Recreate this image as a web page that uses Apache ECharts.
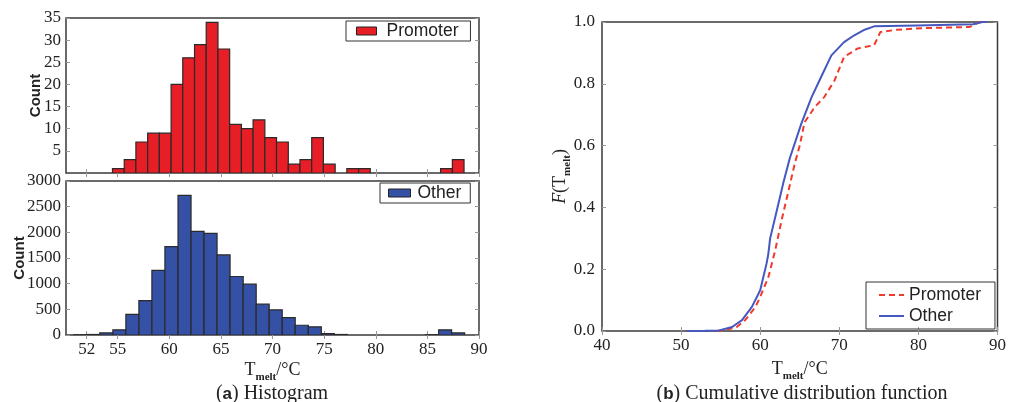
<!DOCTYPE html>
<html>
<head>
<meta charset="utf-8">
<script src="https://cdn.jsdelivr.net/npm/echarts@6/dist/echarts.min.js"></script>
<style>
html,body{margin:0;padding:0;background:#fff;}
#chart{width:1009px;height:402px;}
</style>
</head>
<body>
<div id="chart"></div>
<script>
// ---- Histogram bins (left edges + final right edge) ----
const promoterEdges = [54.50,55.64,56.77,57.91,59.04,60.18,61.31,62.45,63.58,64.72,65.85,66.99,68.12,69.26,70.39,71.53,72.66,73.80,74.93,76.07,77.20,78.34,79.47,80.61,81.74,82.88,84.01,85.15,86.28,87.42,88.55];
const promoterCounts = [1,3,7,9,9,20,26,29,34,28,11,10,12,8,7,2,3,8,2,0,1,1,0,0,0,0,0,0,1,3];
const otherEdges = [50.75,52.01,53.27,54.54,55.80,57.06,58.32,59.58,60.85,62.11,63.37,64.63,65.89,67.16,68.42,69.68,70.94,72.20,73.47,74.73,75.99,77.25,78.51,79.78,81.04,82.30,83.56,84.82,86.09,87.35,88.61];
const otherCounts = [5,10,40,100,400,670,1260,1720,2720,2020,1980,1560,1140,990,600,490,340,190,160,25,10,0,0,0,0,0,0,5,100,40];
const histXTicks = [52,55,60,65,70,75,80,85,90];

// ---- CDF curves ----
const promoterCdfT = [54.5,55.6,57.0,58.1,59.4,60.0,61.04,61.9,62.7,63.5,64.4,65.0,65.6,66.9,68.1,69.4,70.6,72.3,74.4,75.2,77.3,80.6,86.5,87.7,88.5];
const promoterCdfF = [0,0.004,0.012,0.035,0.078,0.11,0.175,0.261,0.358,0.445,0.545,0.60,0.675,0.725,0.757,0.811,0.887,0.914,0.925,0.968,0.975,0.98,0.984,1.0,1.0];
const otherCdfT = [50.7,53.0,54.8,56.45,57.7,58.95,60.0,60.8,61.0,61.1,61.25,62.1,62.9,63.75,65.2,66.5,67.7,69.0,70.6,71.9,73.2,74.4,79.8,86.9,87.6,88.1,88.6];
const otherCdfF = [0,0.0005,0.002,0.013,0.035,0.078,0.132,0.218,0.245,0.265,0.299,0.39,0.477,0.56,0.671,0.757,0.822,0.892,0.935,0.957,0.975,0.986,0.989,0.993,0.997,1.0,1.0];

const RED = '#e81e26', BLUE = '#3451a6';
const SERIF = '"Liberation Serif", "DejaVu Serif", serif';
const SANS = '"Liberation Sans", Arial, sans-serif';
const TXT = '#222';

function histData(edges, counts) {
  return counts.map((c, i) => [edges[i], edges[i + 1], c]);
}
function histRender(color) {
  return function (params, api) {
    const lo = api.value(0), hi = api.value(1), c = api.value(2);
    if (!c) return null;
    const p0 = api.coord([lo, 0]);
    const p1 = api.coord([hi, c]);
    return {
      type: 'rect',
      shape: { x: p0[0], y: p1[1], width: p1[0] - p0[0], height: p0[1] - p1[1] },
      style: { fill: color, stroke: '#2a2a2a', lineWidth: 1.2 }
    };
  };
}

const tickLabel = { fontFamily: SERIF, fontSize: 17, color: TXT };
const tickStyle = { inside: true, length: 4, lineStyle: { color: '#999' } };
const tMeltRich = {
  t: { fontFamily: SERIF, fontSize: 18, color: TXT },
  s: { fontFamily: SERIF, fontSize: 11, fontWeight: 'bold', color: TXT, lineHeight: 26, verticalAlign: 'bottom' }
};
const gridCommon = { show: true, borderColor: '#3a3a3a', borderWidth: 1.5, backgroundColor: 'transparent' };

// secondary (mirror) axes: ticks only, on top / right
function mirrorX(gridIndex, min, max, extra) {
  return Object.assign({ gridIndex, type: 'value', position: 'top', min, max, axisLine: { show: false },
    axisLabel: { show: false }, splitLine: { show: false }, axisTick: Object.assign({}, tickStyle) }, extra || {});
}
function mirrorY(gridIndex, min, max, interval) {
  return { gridIndex, type: 'value', position: 'right', min, max, interval, axisLine: { show: false },
    axisLabel: { show: false }, splitLine: { show: false }, axisTick: Object.assign({}, tickStyle) };
}

const capRich = {
  p: { fontFamily: SERIF, fontSize: 20, fontWeight: 'normal', color: TXT },
  b: { fontFamily: SANS, fontSize: 17, fontWeight: 'bold', color: TXT }
};

const chart = echarts.init(document.getElementById('chart'), null, { renderer: 'canvas' });
chart.setOption({
  animation: false,
  backgroundColor: '#fff',
  grid: [
    Object.assign({ left: 66, top: 18, width: 413, height: 155 }, gridCommon),
    Object.assign({ left: 66, top: 181, width: 413, height: 154 }, gridCommon),
    Object.assign({ left: 602, top: 22, width: 399, height: 309 }, gridCommon)
  ],
  xAxis: [
    { gridIndex: 0, type: 'value', min: 50, max: 90, axisLine: { show: false },
      axisLabel: { show: false }, splitLine: { show: false },
      axisTick: Object.assign({ customValues: histXTicks }, tickStyle) },
    { gridIndex: 1, type: 'value', min: 50, max: 90, axisLine: { show: false }, splitLine: { show: false },
      axisTick: Object.assign({ customValues: histXTicks }, tickStyle),
      axisLabel: Object.assign({ margin: 6, customValues: histXTicks }, tickLabel),
      name: '{t|T}{s|melt}{t|/°C}', nameLocation: 'middle', nameGap: 22, nameMoveOverlap: false,
      nameTextStyle: { rich: tMeltRich } },
    { gridIndex: 2, type: 'value', min: 40, max: 90, interval: 10, axisLine: { show: false }, splitLine: { show: false },
      axisTick: Object.assign({}, tickStyle),
      axisLabel: Object.assign({ margin: 6 }, tickLabel),
      name: '{t|T}{s|melt}{t|/°C}', nameLocation: 'middle', nameGap: 25, nameMoveOverlap: false,
      nameTextStyle: { rich: tMeltRich } },
    mirrorX(0, 50, 90, { axisTick: Object.assign({ customValues: histXTicks }, tickStyle) }),
    mirrorX(1, 50, 90, { axisTick: Object.assign({ customValues: histXTicks }, tickStyle) }),
    mirrorX(2, 40, 90, { interval: 10 })
  ],
  yAxis: [
    { gridIndex: 0, type: 'value', min: 0, max: 35, interval: 5, axisLine: { show: false }, splitLine: { show: false },
      axisTick: Object.assign({}, tickStyle),
      axisLabel: Object.assign({ margin: 5, showMinLabel: false }, tickLabel),
      name: 'Count', nameLocation: 'middle', nameGap: 23, nameMoveOverlap: false,
      nameTextStyle: { fontFamily: SANS, fontWeight: 'bold', fontSize: 15, color: TXT } },
    { gridIndex: 1, type: 'value', min: 0, max: 3000, interval: 500, axisLine: { show: false }, splitLine: { show: false },
      axisTick: Object.assign({}, tickStyle),
      axisLabel: Object.assign({ margin: 5, formatter: v => String(v) }, tickLabel),
      name: 'Count', nameLocation: 'middle', nameGap: 39, nameMoveOverlap: false,
      nameTextStyle: { fontFamily: SANS, fontWeight: 'bold', fontSize: 15, color: TXT } },
    { gridIndex: 2, type: 'value', min: 0, max: 1, interval: 0.2, axisLine: { show: false }, splitLine: { show: false },
      axisTick: Object.assign({}, tickStyle),
      axisLabel: Object.assign({ margin: 7, formatter: v => v.toFixed(1) }, tickLabel),
      name: '{i|F}{t|(T}{s|melt}{t|)}', nameLocation: 'middle', nameGap: 29, nameMoveOverlap: false,
      nameTextStyle: { rich: {
        i: { fontFamily: SERIF, fontStyle: 'italic', fontSize: 18, color: TXT },
        t: { fontFamily: SERIF, fontSize: 18, color: TXT },
        s: { fontFamily: SERIF, fontSize: 11, fontWeight: 'bold', color: TXT, lineHeight: 26, verticalAlign: 'bottom' }
      } } },
    mirrorY(0, 0, 35, 5),
    mirrorY(1, 0, 3000, 500),
    mirrorY(2, 0, 1, 0.2)
  ],
  legend: [
    { data: [{ name: 'Promoter', icon: 'rect' }], left: 346, top: 21, padding: [1, 12, 1, 10],
      borderColor: '#333', borderWidth: 1, itemWidth: 20, itemHeight: 8, selectedMode: false,
      itemStyle: { borderColor: '#222', borderWidth: 1 },
      textStyle: { fontFamily: SANS, fontSize: 17.5, color: TXT, padding: [0, 0, 0, 5] } },
    { data: [{ name: 'Other', icon: 'rect' }], left: 380, top: 183, padding: [1, 9, 1, 8],
      borderColor: '#333', borderWidth: 1, itemWidth: 22, itemHeight: 8, selectedMode: false,
      itemStyle: { borderColor: '#222', borderWidth: 1 },
      textStyle: { fontFamily: SANS, fontSize: 17.5, color: TXT, padding: [0, 0, 0, 2] } },
    { data: ['Promoter CDF', 'Other CDF'], orient: 'vertical', left: 866, top: 282, padding: [4, 14, 4, 12],
      borderColor: '#333', borderWidth: 1, itemWidth: 25, itemHeight: 10, itemGap: 3, selectedMode: false,
      itemStyle: { opacity: 0 },
      formatter: n => n.replace(' CDF', ''),
      textStyle: { fontFamily: SANS, fontSize: 17.5, color: TXT } }
  ],
  title: [
    { text: '{p|(}{b|a}{p|) Histogram}', left: 272, top: 384, textAlign: 'center', padding: 0,
      textStyle: { fontWeight: 'normal', rich: capRich } },
    { text: '{p|(}{b|b}{p|) Cumulative distribution function}', left: 802, top: 384, textAlign: 'center', padding: 0,
      textStyle: { fontWeight: 'normal', rich: capRich } }
  ],
  series: [
    { type: 'custom', name: 'Promoter', xAxisIndex: 0, yAxisIndex: 0, clip: true,
      itemStyle: { color: RED }, encode: { x: [0, 1], y: 2 },
      renderItem: histRender(RED), data: histData(promoterEdges, promoterCounts) },
    { type: 'custom', name: 'Other', xAxisIndex: 1, yAxisIndex: 1, clip: true,
      itemStyle: { color: BLUE }, encode: { x: [0, 1], y: 2 },
      renderItem: histRender(BLUE), data: histData(otherEdges, otherCounts) },
    { type: 'line', name: 'Promoter CDF', xAxisIndex: 2, yAxisIndex: 2, symbol: 'none',
      color: '#f03a2c', lineStyle: { color: '#f03a2c', width: 2, type: [6, 4] },
      data: promoterCdfT.map((t, i) => [t, promoterCdfF[i]]) },
    { type: 'line', name: 'Other CDF', xAxisIndex: 2, yAxisIndex: 2, symbol: 'none',
      color: '#4458c0', lineStyle: { color: '#4458c0', width: 2 },
      data: otherCdfT.map((t, i) => [t, otherCdfF[i]]) }
  ]
});
</script>
</body>
</html>
